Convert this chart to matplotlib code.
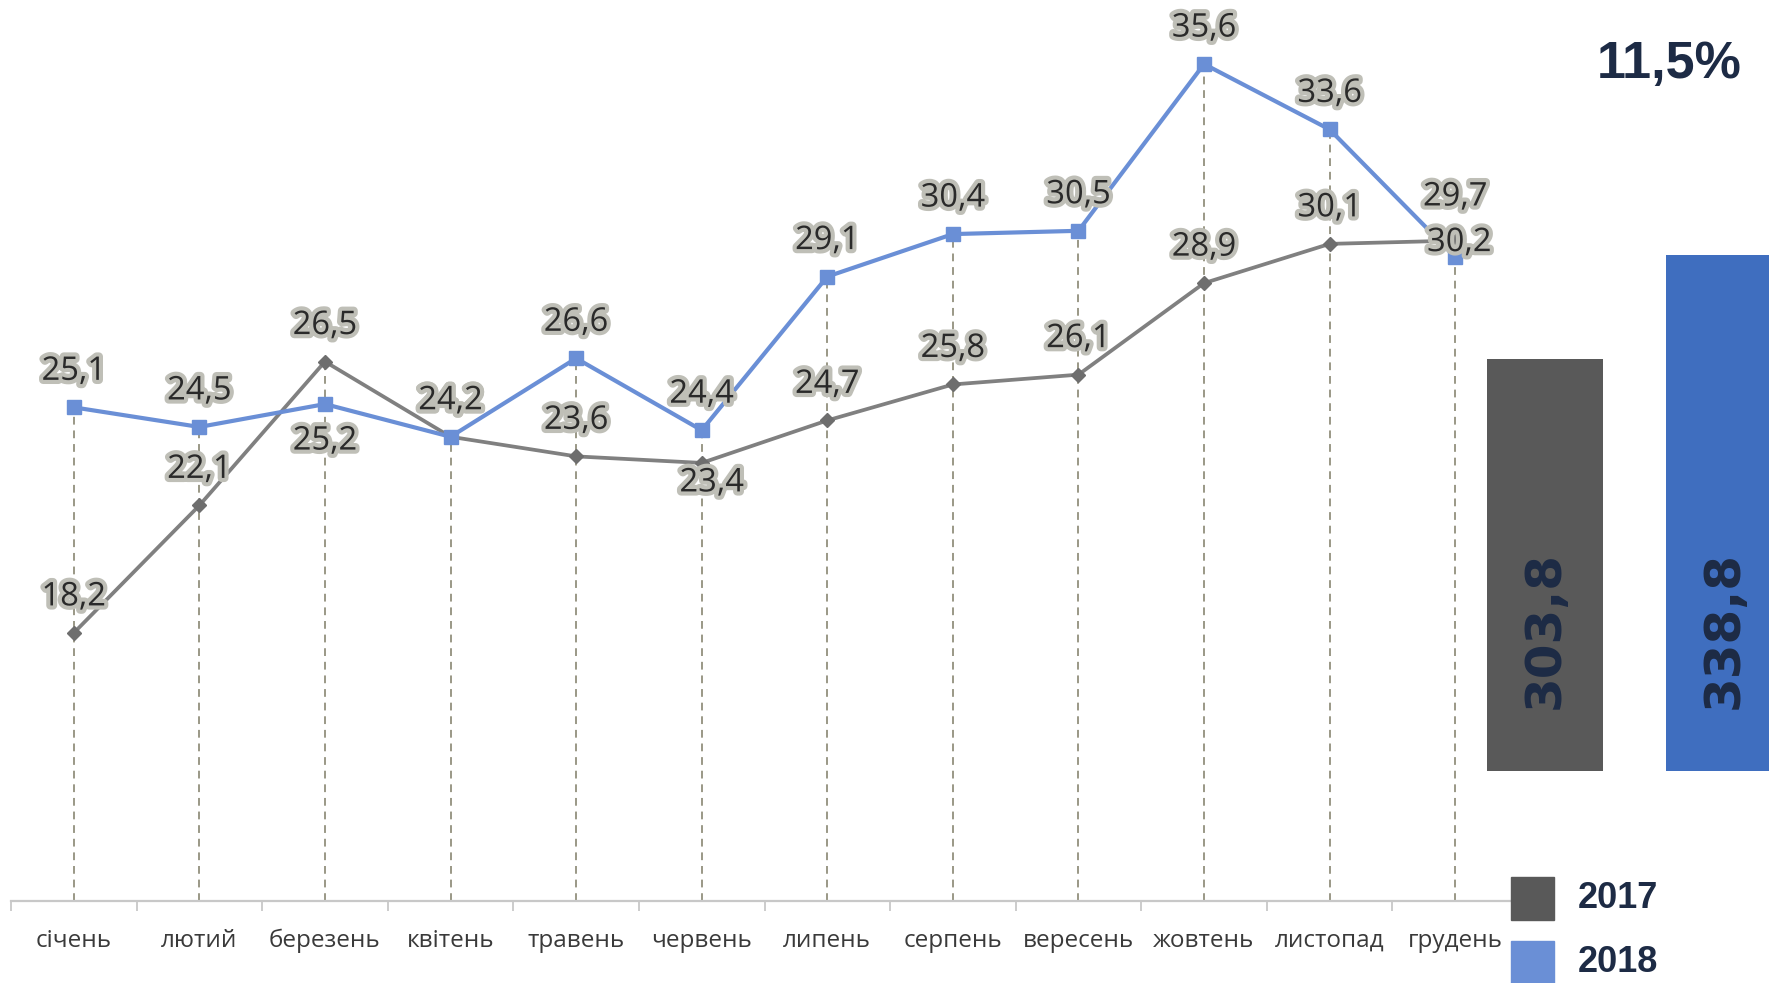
import matplotlib
matplotlib.use('Agg')
import matplotlib.pyplot as plt
import matplotlib.patheffects as pe
from matplotlib.patches import Rectangle

months = ['січень', 'лютий', 'березень', 'квітень', 'травень', 'червень',
          'липень', 'серпень', 'вересень', 'жовтень', 'листопад', 'грудень']
values_2017 = [18.2, 22.1, 26.5, 24.2, 23.6, 23.4, 24.7, 25.8, 26.1, 28.9, 30.1, 30.2]
values_2018 = [25.1, 24.5, 25.2, 24.2, 26.6, 24.4, 29.1, 30.4, 30.5, 35.6, 33.6, 29.7]
years = ['2017', '2018']
totals = [303.8, 338.8]
growth = '11,5%'

# label offsets in pixels (dx, dy), mostly above the point
off_2017 = [(0, 36)] * 12
off_2017[5] = (10, -20)
off_2017[11] = (4, -2)
off_2018 = [(0, 36)] * 12
off_2018[2] = (0, -37)
off_2018[11] = (0, 60)

W, H = 1769, 983
fig = plt.figure(figsize=(W / 100, H / 100), dpi=100)
fig.patch.set_facecolor('white')

c17_line = '#808080'
c18_line = '#6a8fd6'
c17_bar = '#595959'
c18_bar = '#3f6ebf'
navy = '#1d2b45'

ax = fig.add_axes([11 / W, 82 / H, (1518 - 11) / W, 1 - 82 / H])
x = list(range(len(months)))

# dashed drop lines from the higher point to the axis
tops = [max(a, b) for a, b in zip(values_2017, values_2018)]
ax.vlines(x, 10, tops, colors='#9a9886', linestyles=(0, (4, 3)), linewidth=1.4, zorder=1)

ax.plot(x, values_2017, color=c17_line, lw=2.7, marker='D', ms=7, mfc='#6e6e6e', mec='#6e6e6e', zorder=3)
ax.plot(x, values_2018, color=c18_line, lw=3, marker='s', ms=10, mfc=c18_line, mec=c18_line, zorder=4)

glow = [pe.withStroke(linewidth=6, foreground='#bfbfb7')]
for vals, offs in ((values_2017, off_2017), (values_2018, off_2018)):
    for i, v in enumerate(vals):
        ax.annotate(f'{v:.1f}'.replace('.', ','), (i, v), xytext=offs[i], textcoords='offset pixels',
                    ha='center', va='center', fontsize=23.5, color='#2a2a2a',
                    family=['Open Sans', 'DejaVu Sans'], path_effects=glow, zorder=6)

ax.set_xlim(-0.5, 11.5)
ax.set_ylim(10, 37.56)
for s in ('top', 'right', 'left'):
    ax.spines[s].set_visible(False)
ax.spines['bottom'].set_color('#c8c8c8')
ax.spines['bottom'].set_linewidth(1.6)
ax.set_yticks([])
ax.set_xticks(x)
ax.set_xticklabels(months, fontsize=17.5, color='#3a3a3a', family=['Open Sans', 'DejaVu Sans'])
ax.tick_params(axis='x', which='major', length=0, pad=20)
ax.set_xticks([i - 0.5 for i in range(13)], minor=True)
ax.tick_params(axis='x', which='minor', length=7, width=1.3, color='#c8c8c8', direction='out')
ax.patch.set_alpha(0)

# totals bars
bx = fig.add_axes([1487 / W, 1 - 771 / H, 326.5 / W, 771 / H])
bx.bar([0, 1], totals, width=0.648, color=[c17_bar, c18_bar], bottom=0)
bx.set_xlim(-0.324, 1.5)
bx.set_ylim(165.1, 165.1 + 771 / 2.971)
bx.axis('off')
for i, t in enumerate(totals):
    bx.text(i, 0.183, f'{t:.1f}'.replace('.', ','), transform=bx.get_xaxis_transform(),
            rotation=90, ha='center', va='center', fontsize=36, fontweight='bold',
            color=navy, family='DejaVu Sans')

fig.text(1669 / W, 1 - 64 / H, growth, ha='center', va='center', fontsize=37.5,
         fontweight='bold', color=navy, family='Liberation Sans')

# legend
for i, (yr, col) in enumerate(zip(years, [c17_bar, c18_line])):
    y0 = 877 + i * 64
    fig.add_artist(Rectangle((1511 / W, 1 - (y0 + 43) / H), 43 / W, 43 / H,
                             transform=fig.transFigure, color=col))
    fig.text(1578 / W, 1 - (y0 + 21) / H, yr, ha='left', va='center', fontsize=26,
             fontweight='bold', color=navy, family='Liberation Sans')

fig.savefig('out.png', dpi=100)
